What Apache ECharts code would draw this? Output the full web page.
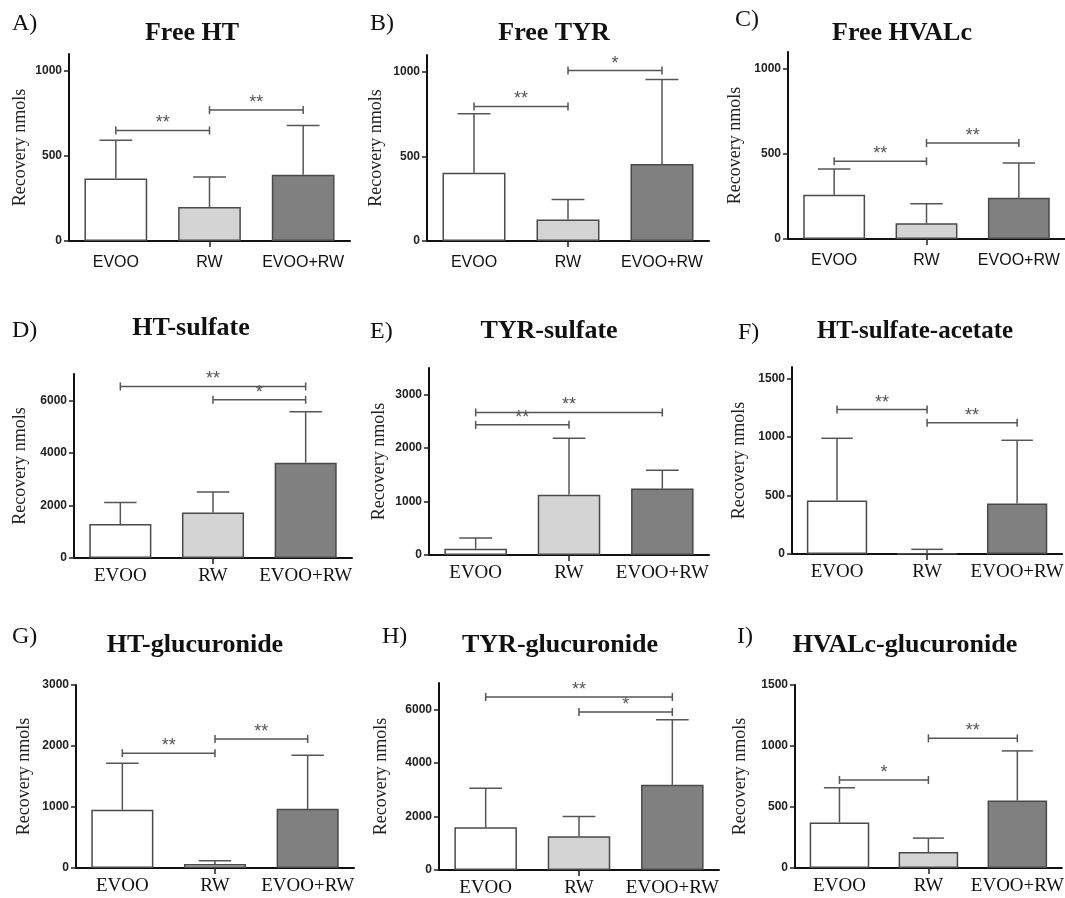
<!DOCTYPE html>
<html><head><meta charset="utf-8">
<script src="https://cdn.jsdelivr.net/npm/echarts@6/dist/echarts.min.js"></script>
<style>html,body{margin:0;padding:0;background:#fff}#c{width:1065px;height:898px}</style>
</head><body><div id="c"></div>
<script>
// ---------- data ----------
const categories = ['EVOO', 'RW', 'EVOO+RW'];
const panelLetters = ['A)', 'B)', 'C)', 'D)', 'E)', 'F)', 'G)', 'H)', 'I)'];
const panelTitles = ['Free HT', 'Free TYR', 'Free HVALc', 'HT-sulfate', 'TYR-sulfate',
  'HT-sulfate-acetate', 'HT-glucuronide', 'TYR-glucuronide', 'HVALc-glucuronide'];
const yAxisName = 'Recovery nmols';

// means and SD (upper error) per panel, order: EVOO, RW, EVOO+RW
const meanA = [367, 200, 389];   const sdA = [226, 177, 291];
const meanB = [404, 127, 456];   const sdB = [349, 119, 499];
const meanC = [261, 92, 243];    const sdC = [151, 116, 204];
const meanD = [1293, 1734, 3624]; const sdD = [821, 776, 1939];
const meanE = [119, 1130, 1243]; const sdE = [201, 1055, 345];
const meanF = [458, 4, 432];     const sdF = [532, 36, 541];
const meanG = [954, 65, 970];    const sdG = [764, 55, 879];
const meanH = [1600, 1263, 3187]; const sdH = [1464, 737, 2438];
const meanI = [373, 131, 553];   const sdI = [284, 114, 407];

// significance brackets: [from category, to category, height, label]
const sigA = [[0, 1, 650, '**'], [1, 2, 770, '**']];
const sigB = [[0, 1, 796, '**'], [1, 2, 1008, '*']];
const sigC = [[0, 1, 457, '**'], [1, 2, 565, '**']];
const sigD = [[0, 2, 6525, '**'], [1, 2, 6019, '*']];
const sigE = [[0, 2, 2669, '**'], [0, 1, 2436, '**']];
const sigF = [[0, 1, 1236, '**'], [1, 2, 1122, '**']];
const sigG = [[0, 1, 1882, '**'], [1, 2, 2116, '**']];
const sigH = [[0, 2, 6476, '**'], [1, 2, 5913, '*']];
const sigI = [[0, 1, 722, '*'], [1, 2, 1063, '**']];

// y axis ranges and tick labels
const yMax = [1100, 1100, 1100, 7000, 3500, 1600, 3000, 7000, 1500];
const yTicksA = [0, 500, 1000];
const yTicksB = [0, 500, 1000];
const yTicksC = [0, 500, 1000];
const yTicksD = [0, 2000, 4000, 6000];
const yTicksE = [0, 1000, 2000, 3000];
const yTicksF = [0, 500, 1000, 1500];
const yTicksG = [0, 1000, 2000, 3000];
const yTicksH = [0, 2000, 4000, 6000];
const yTicksI = [0, 500, 1000, 1500];

const means = [meanA, meanB, meanC, meanD, meanE, meanF, meanG, meanH, meanI];
const sds = [sdA, sdB, sdC, sdD, sdE, sdF, sdG, sdH, sdI];
const sigs = [sigA, sigB, sigC, sigD, sigE, sigF, sigG, sigH, sigI];
const yTicks = [yTicksA, yTicksB, yTicksC, yTicksD, yTicksE, yTicksF, yTicksG, yTicksH, yTicksI];

// ---------- layout / style ----------
const gridBoxes = [
  [69, 54, 281, 187], [427, 55, 282, 186], [788, 52, 284, 187],
  [74, 374, 278, 184], [429, 368, 280, 187], [792, 367, 280, 187],
  [76, 685, 278, 183], [439, 683, 280, 187], [795, 685, 278, 183]
];
const nameGaps = [40, 42, 44, 45, 41, 44, 43, 49, 46];
const titlePos = [[192, 33], [554, 33], [902, 33], [191, 328], [549, 331], [915, 332], [195, 645], [560, 645], [905, 645]];
const letterPos = [[12, 24], [370, 24], [735, 20], [12, 331], [370, 332], [738, 333], [12, 637], [382, 637], [737, 637]];
const barColors = ['#ffffff', '#d4d4d4', '#808080'];
const lineGray = '#555555';

const grid = [], xAxis = [], yAxis = [], series = [], graphic = [];

for (let i = 0; i < 9; i++) {
  const [l, t, w, h] = gridBoxes[i];
  grid.push({ left: l, top: t, width: w, height: h, containLabel: false });
  const row = Math.floor(i / 3);
  xAxis.push({
    type: 'category', gridIndex: i, data: categories,
    axisLine: { lineStyle: { color: '#111', width: 2 } },
    axisTick: { show: true, alignWithLabel: true, length: 6, interval: (idx) => idx === 1,
      lineStyle: { color: '#222', width: 1.5 } },
    axisLabel: row === 0
      ? { interval: 0, hideOverlap: false, fontFamily: 'Liberation Sans', fontSize: 16, color: '#111', margin: 14 }
      : { interval: 0, hideOverlap: false, fontFamily: 'Liberation Serif', fontSize: 19, color: '#111', margin: 9 },
    splitLine: { show: false }
  });
  yAxis.push({
    type: 'value', gridIndex: i, min: 0, max: yMax[i],
    name: yAxisName, nameLocation: 'middle', nameRotate: 90, nameGap: nameGaps[i],
    nameTextStyle: { fontFamily: 'Liberation Serif', fontSize: 18, color: '#222' },
    axisLine: { show: true, lineStyle: { color: '#111', width: 2 } },
    axisTick: { show: true, length: 5, customValues: yTicks[i], lineStyle: { color: '#222', width: 1.5 } },
    axisLabel: { customValues: yTicks[i], formatter: (v) => String(v), fontFamily: 'Liberation Sans', fontWeight: 'bold',
      fontSize: 12, color: '#222', margin: 7 },
    splitLine: { show: false }
  });

  const m = means[i], sd = sds[i], sg = sigs[i];
  series.push({
    type: 'bar', xAxisIndex: i, yAxisIndex: i, barWidth: '67%', z: 2,
    data: m.map((v, j) => ({ value: v, itemStyle: { color: barColors[j] } })),
    itemStyle: { borderColor: '#4a4a4a', borderWidth: 1.5 },
    emphasis: { disabled: true }, silent: true
  });
  series.push({
    type: 'custom', xAxisIndex: i, yAxisIndex: i, z: 3, silent: true,
    data: m.map((v, j) => [j, v, v + sd[j]]),
    renderItem: (params, api) => {
      const base = api.coord([api.value(0), api.value(1)]);
      const tip = api.coord([api.value(0), api.value(2)]);
      const half = api.size([1, 0])[0] * 0.175;
      const st = { stroke: lineGray, lineWidth: 1.5, fill: null };
      return { type: 'group', children: [
        { type: 'line', shape: { x1: base[0], y1: base[1], x2: tip[0], y2: tip[1] }, style: st },
        { type: 'line', shape: { x1: tip[0] - half, y1: tip[1], x2: tip[0] + half, y2: tip[1] }, style: st }
      ] };
    }
  });
  series.push({
    type: 'custom', xAxisIndex: i, yAxisIndex: i, z: 4, silent: true,
    data: sg.map(s => [s[0], s[2], s[1]]),
    renderItem: (params, api) => {
      const p0 = api.coord([api.value(0), api.value(1)]);
      const p1 = api.coord([api.value(2), api.value(1)]);
      const st = { stroke: lineGray, lineWidth: 1.5, fill: null };
      const y = p0[1];
      return { type: 'group', children: [
        { type: 'line', shape: { x1: p0[0], y1: y, x2: p1[0], y2: y }, style: st },
        { type: 'line', shape: { x1: p0[0], y1: y - 4, x2: p0[0], y2: y + 4 }, style: st },
        { type: 'line', shape: { x1: p1[0], y1: y - 4, x2: p1[0], y2: y + 4 }, style: st },
        { type: 'text', x: (p0[0] + p1[0]) / 2, y: y - 7,
          style: { text: sg[params.dataIndex][3], fill: '#555', font: '18px "Liberation Sans"',
            textAlign: 'center', textVerticalAlign: 'middle' } }
      ] };
    }
  });

  graphic.push({ type: 'text', x: titlePos[i][0], y: titlePos[i][1], silent: true,
    style: { text: panelTitles[i], fill: '#111', textAlign: 'center', textVerticalAlign: 'middle',
      font: 'bold ' + (i === 5 ? 25 : 26) + 'px "Liberation Serif"' } });
  graphic.push({ type: 'text', x: letterPos[i][0], y: letterPos[i][1], silent: true,
    style: { text: panelLetters[i], fill: '#111', textAlign: 'left', textVerticalAlign: 'middle',
      font: '24px "Liberation Serif"' } });
}

const chart = echarts.init(document.getElementById('c'), null, { renderer: 'canvas' });
chart.setOption({ animation: false, backgroundColor: '#fff', grid, xAxis, yAxis, series, graphic });
</script></body></html>
